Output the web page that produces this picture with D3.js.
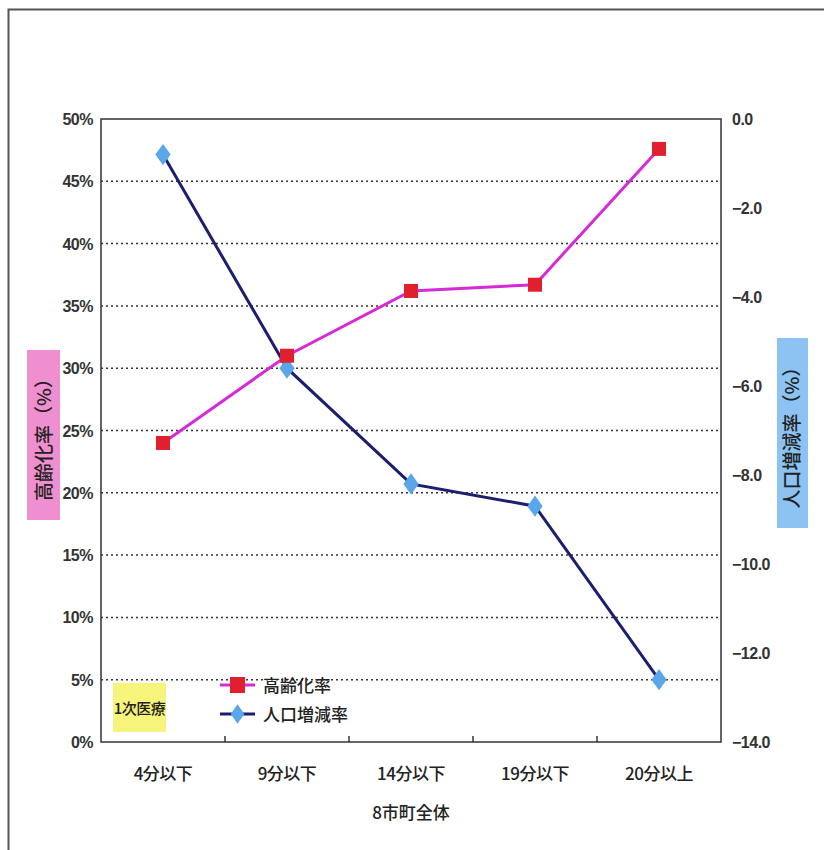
<!DOCTYPE html>
<html><head><meta charset="utf-8">
<script src="https://cdn.jsdelivr.net/npm/d3@7"></script>
<style>body{margin:0;background:#fff;} svg{display:block;}</style>
</head><body>
<script>
const categories = ["4分以下","9分以下","14分以下","19分以下","20分以上"];
const agingRate = [24.0, 31.0, 36.2, 36.7, 47.6];
const popChange = [-0.8, -5.6, -8.2, -8.7, -12.6];
const leftTicks = [0,5,10,15,20,25,30,35,40,45,50];
const rightTicks = [0,-2,-4,-6,-8,-10,-12,-14];

const W = 824, H = 850;
const fontJP = "'Noto Sans CJK JP', 'Liberation Sans Narrow', sans-serif";
const fontNum = "'Liberation Sans Narrow', 'Liberation Sans', sans-serif";
const svg = d3.select("body").append("svg").attr("width", W).attr("height", H);

// outer frame
svg.append("path").attr("d", "M8.5,850 L8.5,9.5 L824,9.5").attr("fill","none").attr("stroke","#555").attr("stroke-width",2);

const L = 101, R = 721, T = 119, B = 742;
const x = d3.scaleBand().domain(categories).range([L, R]);
const yL = d3.scaleLinear().domain([0, 50]).range([B, T]);
const yR = d3.scaleLinear().domain([-14, 0]).range([B, T]);

// gridlines
svg.append("g").selectAll("line").data(leftTicks.filter(t => t > 0 && t < 50)).join("line")
  .attr("x1", L).attr("x2", R).attr("y1", d => yL(d)).attr("y2", d => yL(d))
  .attr("stroke", "#333").attr("stroke-width", 1.5).attr("stroke-dasharray", "2,3");

// plot frame
svg.append("rect").attr("x", L).attr("y", T).attr("width", R - L).attr("height", B - T)
  .attr("fill", "none").attr("stroke", "#333").attr("stroke-width", 1.5);

// x ticks between categories
svg.append("g").selectAll("line").data(categories.slice(1)).join("line")
  .attr("x1", d => x(d)).attr("x2", d => x(d)).attr("y1", B).attr("y2", B - 6)
  .attr("stroke", "#333").attr("stroke-width", 1.5);

// left tick labels
svg.append("g").selectAll("text").data(leftTicks).join("text")
  .attr("x", 93).attr("y", d => yL(d) + 6).attr("text-anchor", "end")
  .attr("font-family", fontNum).attr("font-size", 16).attr("font-weight", "bold").attr("fill", "#333")
  .attr("letter-spacing", "-0.5")
  .text(d => d + "%");

// right tick labels
svg.append("g").selectAll("text").data(rightTicks).join("text")
  .attr("x", 732).attr("y", d => yR(d) + 6).attr("text-anchor", "start")
  .attr("font-family", fontNum).attr("font-size", 16).attr("font-weight", "bold").attr("fill", "#333")
  .attr("letter-spacing", "-0.5")
  .text(d => d3.format(".1f")(d).replace("-", "−"));

// category labels
svg.append("g").selectAll("text").data(categories).join("text")
  .attr("x", d => x(d) + x.bandwidth() / 2).attr("y", 780).attr("text-anchor", "middle")
  .attr("font-family", fontJP).attr("font-size", 17).attr("font-weight", 500).attr("fill", "#222")
  .attr("letter-spacing", "-0.5")
  .text(d => d);

svg.append("text").attr("x", (L + R) / 2).attr("y", 819).attr("text-anchor", "middle")
  .attr("font-family", fontJP).attr("font-size", 17).attr("font-weight", 500).attr("fill", "#222").text("8市町全体");

// axis titles
svg.append("rect").attr("x", 27).attr("y", 350).attr("width", 33).attr("height", 170).attr("fill", "#f08fd0");
svg.append("text").attr("transform", "translate(51,435) rotate(-90)").attr("text-anchor", "middle")
  .attr("font-family", fontJP).attr("font-size", 19).attr("font-weight", 500).attr("fill", "#222").text("高齢化率（%）");
svg.append("rect").attr("x", 777).attr("y", 338).attr("width", 31).attr("height", 190).attr("fill", "#8cc3f2");
svg.append("text").attr("transform", "translate(799,433) rotate(-90)").attr("text-anchor", "middle")
  .attr("font-family", fontJP).attr("font-size", 19).attr("font-weight", 500).attr("fill", "#222").text("人口増減率（%）");

// lines
const cx = d => x(d) + x.bandwidth() / 2;
const agingLine = d3.line().x((d, i) => cx(categories[i])).y(d => yL(d));
const popLine = d3.line().x((d, i) => cx(categories[i])).y(d => yR(d));

svg.append("path").datum(popChange).attr("d", popLine).attr("fill", "none").attr("stroke", "#1c1f6e").attr("stroke-width", 3);
svg.append("path").datum(agingRate).attr("d", agingLine).attr("fill", "none").attr("stroke", "#d62ad6").attr("stroke-width", 3);

svg.append("g").selectAll("path").data(popChange).join("path")
  .attr("d", d3.symbol().type(d3.symbolDiamond).size(130))
  .attr("transform", (d, i) => `translate(${cx(categories[i])},${yR(d)}) scale(1.25,1)`)
  .attr("fill", "#5aa6ea");
svg.append("g").selectAll("rect").data(agingRate).join("rect")
  .attr("x", (d, i) => cx(categories[i]) - 7).attr("y", d => yL(d) - 7)
  .attr("width", 14).attr("height", 14).attr("fill", "#e0202e");

// yellow label
svg.append("rect").attr("x", 113).attr("y", 683).attr("width", 53).attr("height", 49).attr("fill", "#f6f47a");
svg.append("text").attr("x", 139.5).attr("y", 714).attr("text-anchor", "middle")
  .attr("font-family", fontJP).attr("font-size", 15).attr("font-weight", 500).attr("fill", "#222")
  .attr("letter-spacing", "-0.5").text("1次医療");

// legend
const lg = svg.append("g");
lg.append("line").attr("x1", 220).attr("x2", 255).attr("y1", 685).attr("y2", 685).attr("stroke", "#d62ad6").attr("stroke-width", 3);
lg.append("rect").attr("x", 230).attr("y", 677).attr("width", 15).attr("height", 16).attr("fill", "#e0202e");
lg.append("text").attr("x", 263).attr("y", 692).attr("font-family", fontJP).attr("font-size", 17).attr("font-weight", 500).attr("fill", "#222").text("高齢化率");
lg.append("line").attr("x1", 220).attr("x2", 255).attr("y1", 714).attr("y2", 714).attr("stroke", "#1c1f6e").attr("stroke-width", 3);
lg.append("path").attr("d", d3.symbol().type(d3.symbolDiamond).size(110)).attr("transform", "translate(237.5,714) scale(1.2,1)").attr("fill", "#5aa6ea");
lg.append("text").attr("x", 263).attr("y", 721).attr("font-family", fontJP).attr("font-size", 17).attr("font-weight", 500).attr("fill", "#222").text("人口増減率");
</script>
</body></html>
